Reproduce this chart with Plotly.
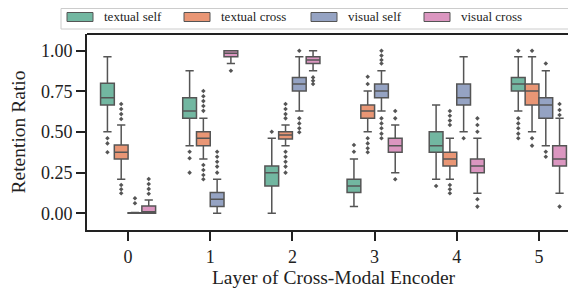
import plotly.graph_objects as go

layers = [0, 1, 2, 3, 4, 5]
tick_labels = ["0", "1", "2", "3", "4", "5"]
series_names = ["textual self", "textual cross", "visual self", "visual cross"]
colors = ["#72b7a1", "#e99675", "#95a3c3", "#db96c0"]

# textual self
ts_q1 = [0.666, 0.584, 0.168, 0.127, 0.375, 0.752]
ts_med = [0.711, 0.629, 0.250, 0.168, 0.416, 0.795]
ts_q3 = [0.800, 0.711, 0.291, 0.209, 0.502, 0.836]
ts_lo = [0.502, 0.416, 0.000, 0.041, 0.209, 0.629]
ts_hi = [0.963, 0.877, 0.461, 0.334, 0.666, 0.963]
ts_out = [[0.461, 0.430, 0.375], [0.379, 0.338, 0.250], [0.502], [0.420, 0.379], [0.168],
          [1.000, 0.584, 0.553, 0.523, 0.490, 0.461]]

# textual cross
tc_q1 = [0.334, 0.416, 0.457, 0.584, 0.291, 0.666]
tc_med = [0.375, 0.461, 0.482, 0.629, 0.334, 0.752]
tc_q3 = [0.420, 0.502, 0.502, 0.666, 0.375, 0.795]
tc_lo = [0.209, 0.334, 0.416, 0.502, 0.209, 0.502]
tc_hi = [0.543, 0.584, 0.543, 0.752, 0.461, 0.963]
tc_out = [[0.672, 0.641, 0.610, 0.580, 0.174, 0.148, 0.123],
          [0.752, 0.720, 0.690, 0.660, 0.630, 0.297, 0.266, 0.236, 0.209],
          [0.672, 0.641, 0.610, 0.584, 0.379, 0.348, 0.317, 0.287, 0.250],
          [0.840, 0.795, 0.461, 0.430, 0.400, 0.375],
          [0.629, 0.600, 0.570, 0.543, 0.174, 0.148, 0.123],
          [1.000, 0.461, 0.416]]

# visual self
vs_q1 = [0.000, 0.041, 0.752, 0.711, 0.666, 0.584]
vs_med = [0.000, 0.086, 0.795, 0.752, 0.711, 0.666]
vs_q3 = [0.003, 0.127, 0.836, 0.795, 0.795, 0.711]
vs_lo = [0.000, 0.000, 0.629, 0.629, 0.502, 0.416]
vs_hi = [0.005, 0.209, 0.963, 0.877, 0.963, 0.877]
vs_out = [[0.092, 0.062],
          [0.379, 0.348, 0.317, 0.287, 0.250],
          [1.000, 0.584, 0.553, 0.523, 0.498],
          [1.000, 0.970, 0.943, 0.922, 0.584, 0.553, 0.523, 0.490, 0.461],
          [0.461],
          [0.922, 0.379, 0.348]]

# visual cross
vc_q1 = [0.000, 0.963, 0.922, 0.375, 0.250, 0.291]
vc_med = [0.010, 0.984, 0.943, 0.416, 0.291, 0.334]
vc_q3 = [0.045, 1.000, 0.963, 0.461, 0.334, 0.416]
vc_lo = [0.000, 0.922, 0.877, 0.250, 0.123, 0.123]
vc_hi = [0.082, 1.000, 1.000, 0.543, 0.461, 0.584]
vc_out = [[0.211, 0.180, 0.150, 0.120],
          [0.877],
          [0.836, 0.815, 0.795],
          [0.629, 0.584, 0.209],
          [0.584, 0.543, 0.502, 0.086, 0.041],
          [0.672, 0.635, 0.605, 0.041]]

stats = [
    (ts_q1, ts_med, ts_q3, ts_lo, ts_hi, ts_out),
    (tc_q1, tc_med, tc_q3, tc_lo, tc_hi, tc_out),
    (vs_q1, vs_med, vs_q3, vs_lo, vs_hi, vs_out),
    (vc_q1, vc_med, vc_q3, vc_lo, vc_hi, vc_out),
]

FONT = "Liberation Serif"
EDGE = "#555555"
INK = "#222222"

fig = go.Figure()
for name, col, (q1, med, q3, lo, hi, out) in zip(series_names, colors, stats):
    fig.add_trace(go.Box(
        name=name, x=layers, y=out,
        q1=q1, median=med, q3=q3, lowerfence=lo, upperfence=hi,
        boxpoints="all", jitter=0, pointpos=0,
        fillcolor=col, line=dict(color=EDGE, width=1.5),
        whiskerwidth=0.6,
        marker=dict(symbol="diamond", size=3.5, color=EDGE),
        showlegend=False,
    ))

# figure geometry (page body adds an 8px offset)
W, H = 576, 290
L, R, T, B = 79, 4, 26, 68
pw, ph = W - L - R, H - T - B


def px_x(p):
    return (p - L) / pw


def px_y(p):
    return (H - B - p) / ph


shapes = []
annotations = []
# legend frame
shapes.append(dict(type="rect", xref="paper", yref="paper",
                   x0=px_x(53), x1=px_x(600), y0=px_y(21), y1=px_y(0.5),
                   line=dict(color="#cccccc", width=1), fillcolor="white", layer="above"))
patch_x = [59, 176, 303, 416]
for name, col, x0 in zip(series_names, colors, patch_x):
    shapes.append(dict(type="rect", xref="paper", yref="paper",
                       x0=px_x(x0), x1=px_x(x0 + 26), y0=px_y(13.5), y1=px_y(4.5),
                       line=dict(color=EDGE, width=1), fillcolor=col, layer="above"))
    annotations.append(dict(xref="paper", yref="paper", x=px_x(x0 + 35), y=px_y(8.5),
                            text=name, showarrow=False, xanchor="left", yanchor="middle",
                            font=dict(family=FONT, size=13, color=INK)))
# top spine
shapes.append(dict(type="line", xref="paper", yref="paper", x0=0, x1=1.05, y0=1, y1=1,
                   line=dict(color=INK, width=2)))

fig.update_layout(
    width=W, height=H,
    margin=dict(l=L, r=R, t=T, b=B),
    paper_bgcolor="white", plot_bgcolor="white",
    boxmode="group", boxgap=0.33, boxgroupgap=0.0,
    font=dict(family=FONT, size=18, color=INK),
    shapes=shapes, annotations=annotations,
    showlegend=False,
)
fig.update_xaxes(
    range=[-0.5, 5.5], tickvals=layers, ticktext=tick_labels,
    showline=True, linecolor=INK, linewidth=2, mirror=False,
    ticks="outside", ticklen=9, tickwidth=2, tickcolor=INK,
    showgrid=False, zeroline=False,
    title=dict(text="Layer of Cross-Modal Encoder", font=dict(size=19.5), standoff=0),
    tickfont=dict(size=18),
)
fig.update_yaxes(
    range=[-0.103, 1.103], tickvals=[0, 0.25, 0.5, 0.75, 1.0],
    ticktext=["0.00", "0.25", "0.50", "0.75", "1.00"],
    showline=True, linecolor=INK, linewidth=2, mirror=False,
    ticks="outside", ticklen=9, tickwidth=2, tickcolor=INK,
    showgrid=False, zeroline=False,
    title=dict(text="Retention Ratio", font=dict(size=19.5), standoff=12),
    tickfont=dict(size=18),
)

fig.write_html("out.html")
